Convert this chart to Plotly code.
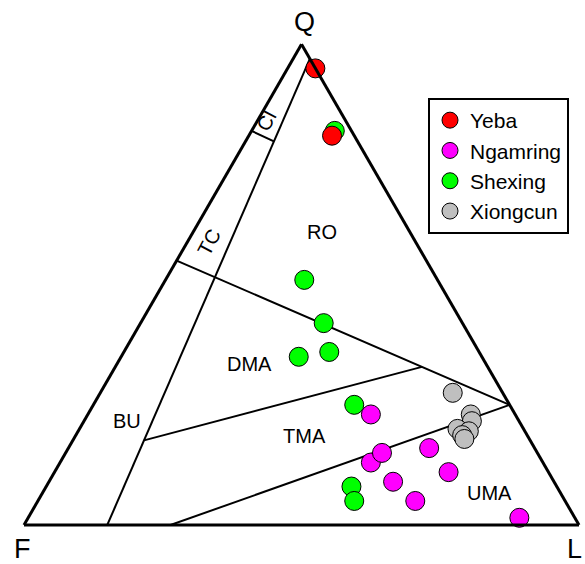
import plotly.graph_objects as go

# Framework composition (percent) of sandstone samples: Q = quartz, F = feldspar, L = lithic fragments
yeba_q = [95, 81]
yeba_f = [0, 4]
yeba_l = [5, 15]

ngamring_q = [23, 13, 15, 16, 9, 5, 11, 1.5]
ngamring_f = [26, 31, 28, 19, 29, 27, 18, 10]
ngamring_l = [51, 56, 57, 65, 62, 68, 71, 88.5]

shexing_q = [82, 51, 42, 35, 36, 25, 8, 5]
shexing_f = [3, 24, 25, 33, 27, 28, 37, 38]
shexing_l = [15, 25, 33, 32, 37, 47, 55, 57]

xiongcun_q = [27.5, 23, 21.6, 20, 19.5, 18.7, 17.9]
xiongcun_f = [9, 8, 8.5, 11.9, 10.1, 11.7, 11.7]
xiongcun_l = [63.5, 69, 69.9, 68.1, 70.4, 69.6, 70.4]

# Provenance field boundaries (Dickinson-type QFL), as (Q, F, L) end points
boundaries = {
    "continental_block": [(97, 0, 3), (0, 85, 15)],
    "ci_tc": [(82, 18, 0), (79.8, 15.07, 5.13)],
    "recycled_orogen": [(55, 45, 0), (25, 0, 75)],
    "dma_tma": [(17.6, 69.58, 12.82), (32.9, 11.85, 55.25)],
    "tma_uma": [(0, 73.6, 26.4), (25, 0, 75)],
}

# Field names with their (Q, F, L) positions and text angle
field_names = ["CI", "TC", "RO", "DMA", "BU", "TMA", "UMA"]
field_q = [84.0, 58.8, 60.9, 33.4, 21.6, 18.5, 6.7]
field_f = [14.3, 37.2, 15.9, 42.6, 70.6, 40.2, 12.8]
field_l = [1.7, 4.0, 23.2, 24.0, 7.8, 41.3, 80.5]
field_angle = [-62, -62, 0, 0, 0, 0, 0]

FONT = "Arial, Liberation Sans, sans-serif"
W, H = 585, 564

# Triangle placement in pixels: bottom-left (F) and bottom-right (L) corners
xF, xR, y_base = 24.0, 579.0, 525.0
side = xR - xF
tri_h = side * 3 ** 0.5 / 2


def tern_to_paper(q, f, l):
    s = q + f + l
    q, f, l = q / s, f / s, l / s
    px = xF + side * l + side / 2 * q
    py = y_base - tri_h * q
    return px / W, 1 - py / H


fig = go.Figure()

for name, pts in boundaries.items():
    fig.add_trace(go.Scatterternary(
        a=[p[0] for p in pts], b=[p[1] for p in pts], c=[p[2] for p in pts],
        mode="lines", line=dict(color="black", width=2),
        showlegend=False, hoverinfo="skip", name=name,
    ))

marker_line = dict(color="black", width=1)
series = [
    ("Shexing", shexing_q, shexing_f, shexing_l, "#00FF00", 3),
    ("Yeba", yeba_q, yeba_f, yeba_l, "#FF0000", 1),
    ("Ngamring", ngamring_q, ngamring_f, ngamring_l, "#FF00FF", 2),
    ("Xiongcun", xiongcun_q, xiongcun_f, xiongcun_l, "#BFBFBF", 4),
]
for name, q, f, l, color, rank in series:
    fig.add_trace(go.Scatterternary(
        a=q, b=f, c=l, mode="markers", name=name, legendrank=rank,
        cliponaxis=False,
        marker=dict(size=19, color=color, line=marker_line),
    ))

annotations = []
for name, q, f, l, ang in zip(field_names, field_q, field_f, field_l, field_angle):
    x, y = tern_to_paper(q, f, l)
    annotations.append(dict(
        x=x, y=y, xref="paper", yref="paper", text=name, showarrow=False,
        textangle=ang, font=dict(family=FONT, size=20, color="black"),
        xanchor="center", yanchor="middle",
    ))

# Apex labels
for text, px, py in [("Q", 304, 22), ("F", 22, 549), ("L", 574, 549)]:
    annotations.append(dict(
        x=px / W, y=1 - py / H, xref="paper", yref="paper", text=text,
        showarrow=False, font=dict(family=FONT, size=27, color="black"),
        xanchor="center", yanchor="middle",
    ))

axis_style = dict(
    showticklabels=False, ticks="", showgrid=False, title=dict(text=""),
    linecolor="black", linewidth=3, min=0,
)

fig.update_layout(
    width=W, height=H,
    margin=dict(l=0, r=0, t=0, b=0),
    paper_bgcolor="white",
    ternary=dict(
        sum=100,
        bgcolor="white",
        domain=dict(x=[xF / W, xR / W], y=[(H - y_base) / H, (H - y_base + tri_h) / H]),
        aaxis=axis_style, baxis=axis_style, caxis=axis_style,
    ),
    legend=dict(
        x=428 / W, y=1 - 98 / H, xanchor="left", yanchor="top",
        bordercolor="black", borderwidth=2, bgcolor="white",
        font=dict(family=FONT, size=21, color="black"),
        itemsizing="trace",
    ),
    annotations=annotations,
    showlegend=True,
)

fig.write_html("out.html")
